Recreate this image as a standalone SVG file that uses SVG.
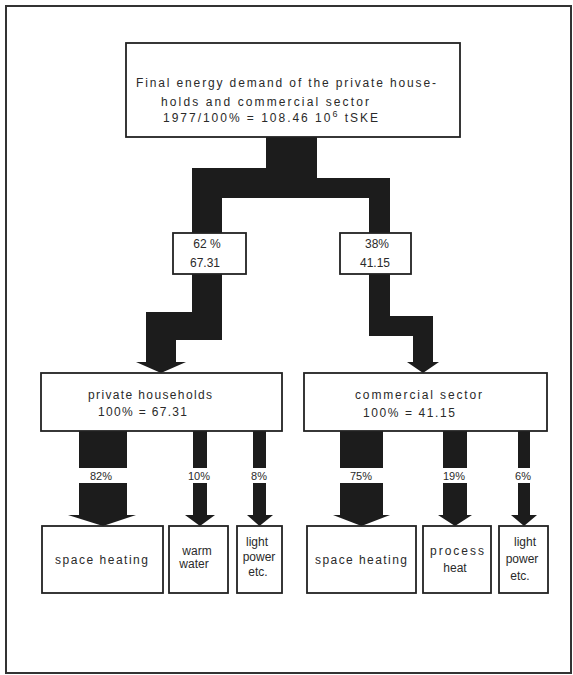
<svg xmlns="http://www.w3.org/2000/svg" width="573" height="675" viewBox="0 0 573 675">
<style>
.box{fill:#fff;stroke:#222;stroke-width:1.8}
.flow{fill:#1c1c1c;stroke:none}
text{font-family:"Liberation Sans","DejaVu Sans",sans-serif;font-size:12px;fill:#2a2a2a}
.c{text-anchor:middle}
.p{font-size:11px;text-anchor:middle}
</style>
<rect x="0" y="0" width="573" height="675" fill="#fff"/>
<rect x="6" y="6" width="565" height="667" fill="none" stroke="#333" stroke-width="2"/>
<g id="connectors">
  <polygon class="flow" points="266,137 317,137 317,178 390,178 390,233 369,233 369,198 222,198 222,233 192,233 192,168 266,168"/>
  <polygon class="flow" points="192,274 222,274 222,340 176,340 176,362 186,362 161,373 136,362 146,362 146,312 192,312"/>
  <polygon class="flow" points="369,274 390,274 390,316 433,316 433,362 439,362 423,373 407,362 413,362 413,336 369,336"/>
  <rect class="flow" x="79" y="431" width="48" height="37"/>
  <polygon class="flow" points="79,483 127,483 127,515 136,515 103,526 68,515 79,515"/>
  <rect class="flow" x="193" y="431" width="14" height="37"/>
  <polygon class="flow" points="193,483 207,483 207,515 215,515 200,526 185,515 193,515"/>
  <rect class="flow" x="253" y="431" width="13" height="37"/>
  <polygon class="flow" points="253,483 266,483 266,515 273,515 259.5,526 247,515 253,515"/>
  <rect class="flow" x="340" y="431" width="43" height="37"/>
  <polygon class="flow" points="340,483 383,483 383,515 390,515 361.5,526 333,515 340,515"/>
  <rect class="flow" x="443" y="431" width="24" height="37"/>
  <polygon class="flow" points="443,483 467,483 467,515 472,515 455,526 438,515 443,515"/>
  <rect class="flow" x="518" y="431" width="12" height="37"/>
  <polygon class="flow" points="518,483 530,483 530,515 537,515 524,526 511,515 518,515"/>
  <text class="p" x="101" y="480">82%</text>
  <text class="p" x="199" y="480">10%</text>
  <text class="p" x="259" y="480">8%</text>
  <text class="p" x="361" y="480">75%</text>
  <text class="p" x="454" y="480">19%</text>
  <text class="p" x="523" y="480">6%</text>
</g>
<g id="total">
  <rect class="box" x="126" y="43" width="334" height="94"/>
  <text x="136" y="87" textLength="300" lengthAdjust="spacing">Final energy demand of the private house-</text>
  <text x="161" y="106" textLength="208" lengthAdjust="spacing">holds and commercial sector</text>
  <text x="163" y="122" textLength="215" lengthAdjust="spacing">1977/100% = 108.46  10<tspan dy="-5" font-size="9">6</tspan><tspan dy="5"> tSKE</tspan></text>
</g>
<g id="share-households">
  <rect class="box" x="173" y="233" width="73" height="41"/>
  <text class="c" x="207" y="248">62 %</text>
  <text class="c" x="205" y="267">67.31</text>
</g>
<g id="share-commercial">
  <rect class="box" x="340" y="233" width="71" height="41"/>
  <text class="c" x="377" y="248">38%</text>
  <text class="c" x="375" y="267">41.15</text>
</g>
<g id="households">
  <rect class="box" x="41" y="373" width="241" height="58"/>
  <text x="88" y="399" textLength="124" lengthAdjust="spacing">private households</text>
  <text x="98" y="416" textLength="89" lengthAdjust="spacing">100% = 67.31</text>
</g>
<g id="commercial">
  <rect class="box" x="304" y="373" width="243" height="58"/>
  <text x="355" y="399" textLength="127" lengthAdjust="spacing">commercial sector</text>
  <text x="363" y="417" textLength="92" lengthAdjust="spacing">100% = 41.15</text>
</g>
<g id="hh-space-heating">
  <rect class="box" x="42" y="526" width="121" height="67"/>
  <text x="55" y="564" textLength="93" lengthAdjust="spacing">space heating</text>
</g>
<g id="hh-warm-water">
  <rect class="box" x="169" y="526" width="59" height="67"/>
  <text class="c" x="197" y="555">warm</text>
  <text class="c" x="194" y="568">water</text>
</g>
<g id="hh-light">
  <rect class="box" x="237" y="526" width="45" height="67"/>
  <text class="c" x="257" y="546">light</text>
  <text class="c" x="259" y="561">power</text>
  <text class="c" x="258" y="576">etc.</text>
</g>
<g id="cs-space-heating">
  <rect class="box" x="307" y="526" width="109" height="67"/>
  <text x="315" y="564" textLength="92" lengthAdjust="spacing">space heating</text>
</g>
<g id="cs-process-heat">
  <rect class="box" x="423" y="526" width="68" height="67"/>
  <text class="c" x="457" y="555" textLength="54" lengthAdjust="spacing">process</text>
  <text class="c" x="455" y="572">heat</text>
</g>
<g id="cs-light">
  <rect class="box" x="499" y="526" width="49" height="67"/>
  <text class="c" x="525" y="546">light</text>
  <text class="c" x="522" y="563">power</text>
  <text class="c" x="520" y="580">etc.</text>
</g>
</svg>
